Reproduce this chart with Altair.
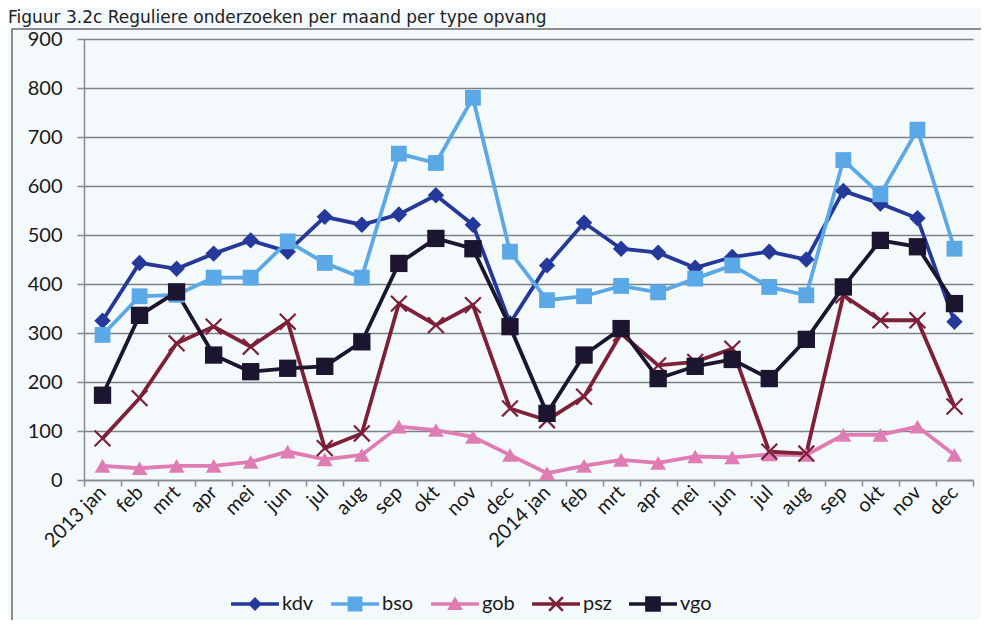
import altair as alt
import pandas as pd

months = ["jan", "feb", "mrt", "apr", "mei", "jun", "jul", "aug", "sep", "okt", "nov", "dec"]
keys = [f"{y} {m}" for y in (2013, 2014) for m in months]

series = ["kdv", "bso", "gob", "psz", "vgo"]
kdv = [325, 443, 431, 462, 489, 466, 537, 521, 542, 581, 521, 320,
       438, 525, 472, 464, 433, 455, 466, 450, 590, 564, 534, 323]
bso = [296, 375, 378, 413, 413, 487, 443, 413, 666, 647, 780, 466,
       367, 375, 396, 383, 411, 438, 394, 377, 653, 583, 715, 472]
gob = [29, 24, 29, 29, 37, 58, 42, 51, 109, 102, 88, 51,
       14, 29, 41, 35, 48, 46, 52, 51, 92, 92, 109, 51]
psz = [85, 167, 279, 313, 272, 323, 65, 95, 360, 316, 357, 146,
       122, 170, 299, 234, 241, 268, 58, 54, 377, 326, 326, 150]
vgo = [173, 336, 384, 255, 221, 228, 232, 282, 442, 493, 472, 313,
       136, 255, 309, 207, 232, 246, 207, 287, 394, 489, 476, 360]
values = {"kdv": kdv, "bso": bso, "gob": gob, "psz": psz, "vgo": vgo}

colors = ["#25399a", "#5ba8e6", "#e07cb4", "#7d2038", "#1b1530"]

LINE = "M-2.6,-0.2H2.6V0.2H-2.6Z"
legend_shapes = [
    LINE + "M0,-0.75L0.75,0L0,0.75L-0.75,0Z",
    LINE + "M-0.8,-0.8H0.8V0.8H-0.8Z",
    LINE + "M0,-0.85L0.85,0.65H-0.85Z",
    LINE + "M-0.85,-0.65L-0.65,-0.85L0.85,0.65L0.65,0.85Z"
           "M0.65,-0.85L0.85,-0.65L-0.65,0.85L-0.85,0.65Z",
    LINE + "M-0.85,-0.85H0.85V0.85H-0.85Z",
]

rows = []
for s in series:
    for k, v in zip(keys, values[s]):
        rows.append({"maand": k, "serie": s, "waarde": v})
df = pd.DataFrame(rows)

FONT = "Lato"

x_enc = alt.X(
    "maand:N", sort=keys, bandPosition=0.5,
    scale=alt.Scale(type="band", paddingInner=0, paddingOuter=0),
    axis=alt.Axis(
        title=None, tickBand="extent", grid=False, labelAngle=-45,
        labelAlign="right", labelBaseline="middle", labelPadding=3,
        tickSize=6, labelOverlap=False,
        labelExpr="isString(datum.value) ? (indexof(datum.value, 'jan') >= 0 ? datum.value : slice(datum.value, 5)) : ''",
    ),
)
y_enc = alt.Y(
    "waarde:Q",
    scale=alt.Scale(domain=[0, 900], nice=False),
    axis=alt.Axis(title=None, values=list(range(0, 1000, 100)), grid=True,
                  tickSize=7, labelPadding=15),
)
col = alt.Color("serie:N", scale=alt.Scale(domain=series, range=colors), legend=None)

base = alt.Chart(df)

frame = alt.Chart(alt.Data(values=[{"a": 1}])).mark_rect(
    fill=None, stroke="#6a6a6a", strokeWidth=1.5
).encode(x=alt.value(-72), x2=alt.value(1200), y=alt.value(-10), y2=alt.value(1200))

lines = base.mark_line(strokeWidth=3.8).encode(x=x_enc, y=y_enc, color=col, detail="serie:N")


def pts(names, shape, size, filled=True, sw=1.0):
    return base.mark_point(shape=shape, size=size, filled=filled, opacity=1,
                           strokeWidth=sw).encode(
        x=x_enc, y=y_enc, color=col
    ).transform_filter(alt.FieldOneOfPredicate(field="serie", oneOf=names))


p_kdv = pts(["kdv"], "diamond", 270)
p_bso = pts(["bso"], "square", 250)
p_gob = pts(["gob"], "triangle-up", 250)
p_psz = pts(["psz"], "M-1,-1L1,1M1,-1L-1,1", 250, filled=False, sw=2.2)
p_vgo = pts(["vgo"], "square", 300)

legend_layer = base.mark_point(filled=True, opacity=1).encode(
    color=alt.Color("serie:N", scale=alt.Scale(domain=series, range=colors),
                    legend=alt.Legend(title=None)),
    shape=alt.Shape("serie:N", scale=alt.Scale(domain=series, range=legend_shapes),
                    legend=alt.Legend(title=None)),
).transform_filter("datum.waarde < -1000")

chart = alt.layer(frame, lines, p_kdv, p_bso, p_gob, p_psz, p_vgo, legend_layer).resolve_scale(
    color="independent", shape="independent"
).properties(
    width=889, height=441,
    autosize=alt.AutoSizeParams(type="none"),
    padding={"left": 76, "top": 31, "right": 8, "bottom": 140},
    background="#f4f9fb",
    title=alt.TitleParams(
        text="Figuur 3.2c Reguliere onderzoeken per maand per type opvang",
        anchor="start", frame="group", dx=-76, offset=1,
        font="DejaVu Sans", fontSize=17, fontWeight="normal", color="#222222",
    ),
).configure_view(stroke=None).configure_axis(
    labelFont=FONT, labelFontSize=20, labelColor="#1a1a1a",
    domainColor="#858b8f", domainWidth=1.5, tickColor="#858b8f", tickWidth=1.5,
    gridColor="#7a8286", gridWidth=1.3,
).configure_legend(
    orient="none", legendX=161, legendY=555, direction="horizontal", columns=5,
    symbolSize=340, symbolStrokeWidth=0, labelFont=FONT, labelFontSize=20,
    labelColor="#1a1a1a", labelOffset=17, columnPadding=17, padding=0,
)

chart.save("out.html", embed_options={"renderer": "svg", "actions": False})
